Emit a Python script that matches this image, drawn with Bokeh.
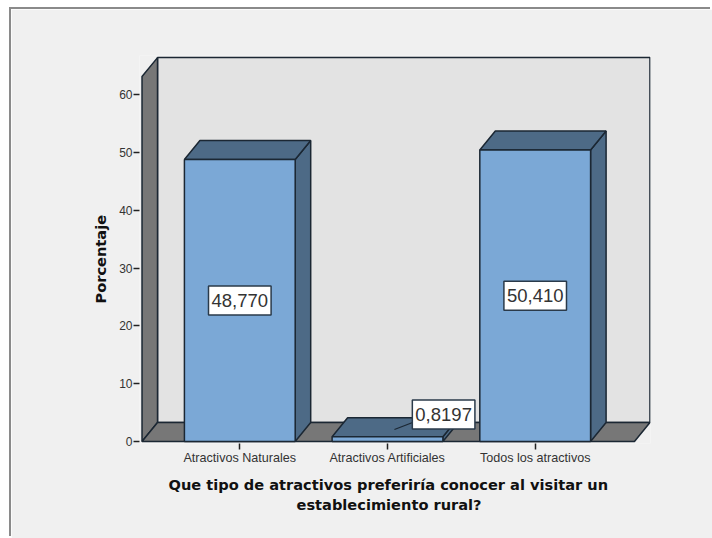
from bokeh.plotting import figure
from bokeh.models import ColumnDataSource, FixedTicker, Range1d, Title
from bokeh.core.properties import value
from bokeh.embed import file_html
from bokeh.resources import INLINE

categories = ["Atractivos Naturales", "Atractivos Artificiales", "Todos los atractivos"]
percentages = [48.770, 0.8197, 50.410]
value_labels = ["48,770", "0,8197", "50,410"]
y_ticks = [0, 10, 20, 30, 40, 50, 60]
y_title = "Porcentaje"
x_title_lines = ["Que tipo de atractivos preferiría conocer al visitar un", "establecimiento rural?"]

# style constants (data-space geometry of the 3D box)
BAR_W = 0.75
DX, DY = 0.105, 3.28
WALL_L, WALL_R, WALL_T = -0.662, 2.672, 63.1
BG, BACK, WALL = "#f0f0f0", "#e3e3e3", "#777777"
FRONT, DARK, EDGE = "#7ba8d6", "#4d6a86", "#1b2733"

PX_X, PX_Y = 147.7, 5.783
OX, OY = 11, 9           # the panel's corner on the page

p = figure(width=712 - OX, height=538 - OY, margin=(OY, 0, 0, OX),
           output_backend="svg", toolbar_location=None,
           x_range=Range1d((139 - 239.3) / PX_X, (650 - 239.3) / PX_X),
           y_range=Range1d(-2 / PX_Y, (441 - 55) / PX_Y),
           min_border_left=139 - OX, min_border_right=62, min_border_top=55 - OY, min_border_bottom=95,
           styles={"box-shadow": "-2px -2px 0 #8a8a8a"})
p.border_fill_color = BG
p.background_fill_color = BG
p.outline_line_color = None
p.grid.visible = False

# walls and floor
outline = dict(line_color=EDGE, line_width=1.5)
p.patch([WALL_L + DX, WALL_R + DX, WALL_R + DX, WALL_L + DX], [DY, DY, WALL_T + DY, WALL_T + DY],
        fill_color=BACK, **outline)
p.patch([WALL_L, WALL_L + DX, WALL_L + DX, WALL_L], [0, DY, WALL_T + DY, WALL_T],
        fill_color=WALL, **outline)
p.patch([WALL_L, WALL_R, WALL_R + DX, WALL_L + DX], [0, 0, DY, DY], fill_color=WALL, **outline)

# bars
for i, v in enumerate(percentages):
    l, r = i - BAR_W / 2, i + BAR_W / 2
    p.patch([r, r + DX, r + DX, r], [0, DY, v + DY, v], fill_color=DARK, **outline)
    p.patch([l, r, r + DX, l + DX], [v, v, v + DY, v + DY], fill_color=DARK, **outline)
    p.patch([l, r, r, l], [0, 0, v, v], fill_color=FRONT, **outline)

# leader of the small bar's label
p.line([1.047, 1.17], [2.07, 3.28], line_color=EDGE, line_width=1.2)

# value labels
src = ColumnDataSource(dict(
    x=[0, 1.38, 2],
    y=[percentages[0] / 2, 4.67, percentages[2] / 2],
    t=value_labels))
p.text("x", "y", text="t", source=src, text_align="center", text_baseline="middle",
       text_font=value("Liberation Sans"), text_font_size="18.5px", text_color="#333333",
       background_fill_color="white", border_line_color="#2a3a4a", border_line_width=1.5,
       padding=(3, 8))

# axes
ya = p.yaxis[0]
ya.ticker = FixedTicker(ticks=y_ticks)
ya.axis_line_color = None
ya.minor_tick_line_color = None
ya.major_tick_in = 0
ya.major_tick_out = 6
ya.major_tick_line_color = "#222222"
ya.major_tick_line_width = 1.5
ya.major_label_text_font = "Liberation Sans"
ya.major_label_text_font_size = "12px"
ya.major_label_text_color = "#333333"
ya.major_label_standoff = 1

xa = p.xaxis[0]
xa.ticker = FixedTicker(ticks=[0, 1, 2])
xa.major_label_overrides = {i: c for i, c in enumerate(categories)}
xa.axis_line_color = None
xa.minor_tick_line_color = None
xa.major_tick_in = 0
xa.major_tick_out = 6
xa.major_tick_line_color = "#222222"
xa.major_tick_line_width = 1.5
xa.major_label_text_font = "Liberation Sans"
xa.major_label_text_font_size = "12.6px"
xa.major_label_text_color = "#333333"
xa.major_label_standoff = 1

# axis titles, placed where the reference has them rather than centred on the frame
title_style = dict(text_font="DejaVu Sans", text_font_style="bold", text_color="#111111",
                   align="left", text_font_size="14.6px")
p.add_layout(Title(text=x_title_lines[0], offset=168 - 139, standoff=12, **title_style), "below")
p.add_layout(Title(text=x_title_lines[1], offset=296 - 139, standoff=-10, **title_style), "below")
p.add_layout(Title(text=y_title, offset=443 - 303, standoff=15, **title_style), "left")

open("out.html", "w").write(file_html(p, INLINE))
